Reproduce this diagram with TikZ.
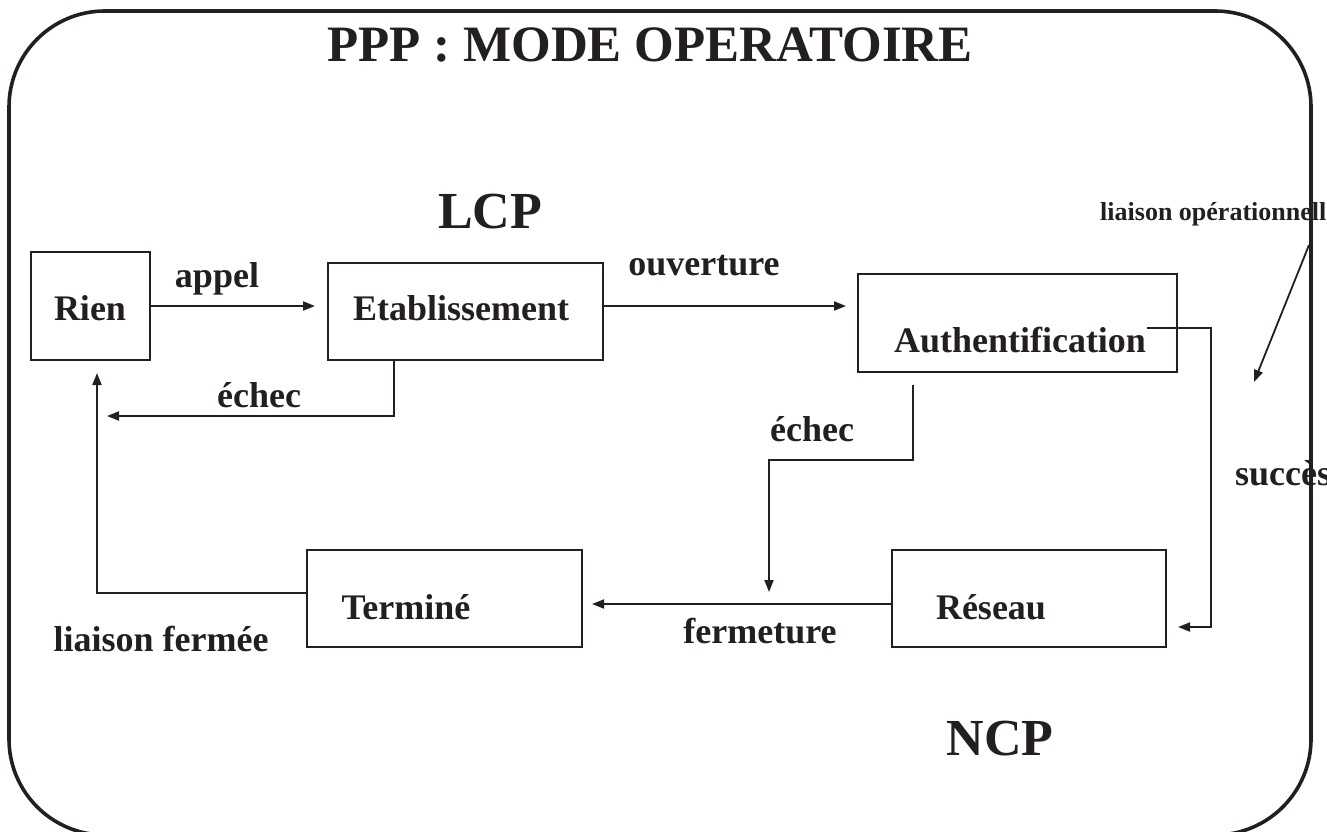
\documentclass[tikz,border=0pt]{standalone}
\usepackage{fontspec}
\setmainfont{Liberation Serif}
\usetikzlibrary{arrows.meta,calc}
\definecolor{ink}{RGB}{35,31,32}
\tikzset{
  box/.style={draw=ink, line width=1.8pt, rectangle, inner sep=0pt, outer sep=0pt},
  lbl/.style={text=ink, font=\bfseries\fontsize{36}{40}\selectfont, inner sep=0pt, anchor=base},
  big/.style={text=ink, font=\bfseries\fontsize{52}{56}\selectfont, inner sep=0pt, anchor=base},
  conn/.style={draw=ink, line width=1.8pt},
  arr/.style={conn, -{Triangle[length=12pt,width=9pt]}},
}
\begin{document}
\begin{tikzpicture}[x=1pt,y=-1pt]
\useasboundingbox (0,0) rectangle (1327,832);
\clip (0,0) rectangle (1327,832);
% frame
\draw[ink, line width=3.6pt, rounded corners=96pt] (9,11) rectangle (1311,835);
% title
\node[text=ink, font=\bfseries\fontsize{51}{55}\selectfont, inner sep=0pt, anchor=base] (title) at (650,62) {PPP : MODE OPERATOIRE};
\node[big] (lcp) at (490,228) {LCP};
\node[big] (ncp) at (1000,755) {NCP};
% boxes
\node[box, minimum width=119pt, minimum height=108pt] (rien) at (90.5,306) {};
\node[box, minimum width=275pt, minimum height=97pt] (etab) at (465.5,311.5) {};
\node[box, minimum width=319pt, minimum height=98pt] (auth) at (1017.5,323) {};
\node[box, minimum width=274pt, minimum height=97pt] (reseau) at (1029,598.5) {};
\node[box, minimum width=275pt, minimum height=97pt] (termine) at (444.5,598.5) {};
% box texts
\node[lbl] (trien) at (90,320) {Rien};
\node[lbl] (tetab) at (461,320) {Etablissement};
\node[lbl] (tauth) at (1020,352) {Authentification};
\node[lbl] (treseau) at (991,619) {Réseau};
\node[lbl] (ttermine) at (406,619) {Terminé};
% labels
\node[lbl] (lappel) at (217,287) {appel};
\node[lbl] (louv) at (704,275) {ouverture};
\node[lbl] (lechec1) at (259,407) {échec};
\node[lbl] (lechec2) at (812,441) {échec};
\node[lbl] (lferm) at (760,643) {fermeture};
\node[lbl] (llf) at (161,651) {liaison fermée};
\node[lbl, anchor=base west] (lsucc) at (1235,485) {succès};
\node[text=ink, font=\bfseries\fontsize{26}{29}\selectfont, inner sep=0pt, anchor=base west] (lop) at (1100,220) {liaison opérationnelle};
% coordinates
\coordinate (e1end) at (107,416);
\coordinate (lfend) at (97,373);
\coordinate (e2start) at (913,385);
\coordinate (e2turn) at (769,460);
\coordinate (e2end) at (769,592);
\coordinate (s0) at (1147,328);
\coordinate (s1) at (1211,627);
\coordinate (lo0) at (1309,245);
\coordinate (lo1) at (1254,382);
% connectors
\draw[arr, shorten >=13pt] (rien.east) -- (rien.east -| etab.west);
\draw[arr, shorten >=12pt] (etab.east |- rien.east) -- (auth.west |- rien.east);
\draw[arr] ([xshift=-71.5pt]etab.south) |- (e1end);
\draw[arr] ($(termine.west)+(0,-5.5)$) -| (lfend);
\draw[arr] (e2start) |- (e2turn) -- (e2end);
\draw[arr, shorten >=10pt] ($(reseau.west)+(0,5.5)$) -- ($(termine.east)+(0,5.5)$);
\draw[arr, shorten >=12pt] (s0) -| (s1) -- (s1 -| reseau.east);
\draw[arr] (lo0) -- (lo1);
\end{tikzpicture}
\end{document}
